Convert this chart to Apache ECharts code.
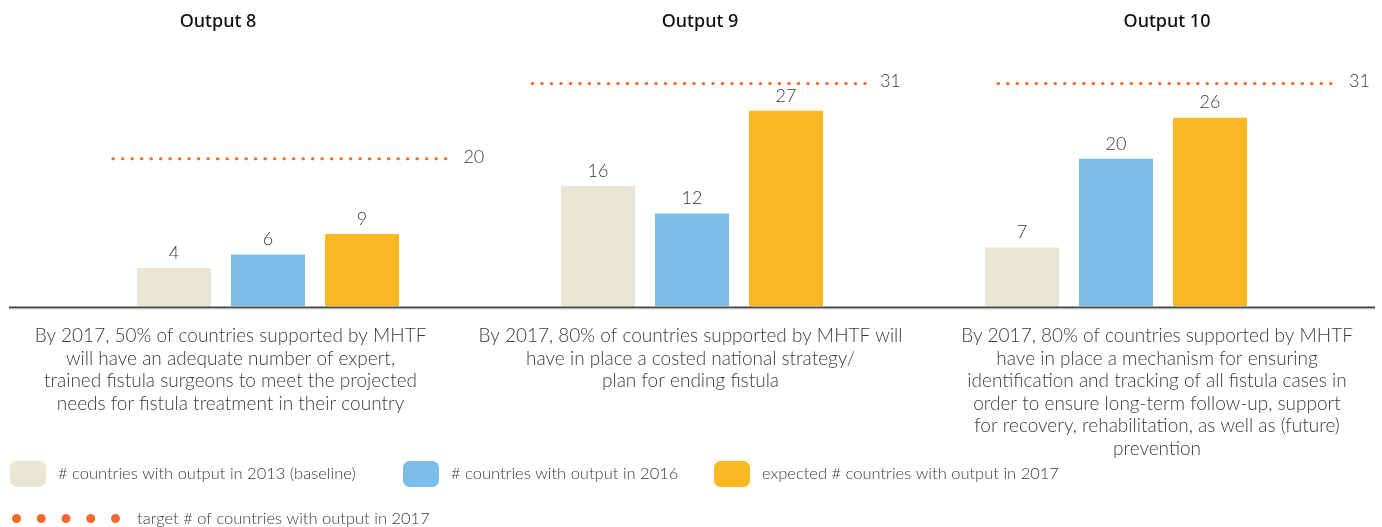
<!DOCTYPE html>
<html>
<head>
<meta charset="utf-8">
<script src="https://cdn.jsdelivr.net/npm/echarts@6/dist/echarts.min.js"></script>
<style>
  html, body { margin: 0; padding: 0; background: #fff; }
  #chart { width: 1382px; height: 527px; }
</style>
</head>
<body>
<div id="chart"></div>
<script>
// ---- data ----
const panelTitles = ['Output 8', 'Output 9', 'Output 10'];
const baseline2013 = [4, 16, 7];
const actual2016 = [6, 12, 20];
const expected2017 = [9, 27, 26];
const target2017 = [20, 31, 31];
const descriptions = [
  'By 2017, 50% of countries supported by MHTF\nwill have an adequate number of expert,\ntrained fistula surgeons to meet the projected\nneeds for fistula treatment in their country',
  'By 2017, 80% of countries supported by MHTF will\nhave in place a costed national strategy/\nplan for ending fistula',
  'By 2017, 80% of countries supported by MHTF\nhave in place a mechanism for ensuring\nidentification and tracking of all fistula cases in\norder to ensure long-term follow-up, support\nfor recovery, rehabilitation, as well as (future)\nprevention'
];
const barSeriesNames = [
  '# countries with output in 2013 (baseline)',
  '# countries with output in 2016',
  'expected # countries with output in 2017'
];
const targetName = 'target # of countries with output in 2017';

// ---- layout & style ----
const BAR_VALUES = [baseline2013, actual2016, expected2017];
const BAR_COLORS = ['#e9e6d6', '#7cbde9', '#fbb824'];
const TARGET_COLOR = '#f26a2a';
const TEXT_COLOR = '#3a3a3a';
const BODY_FONT = 'Lato';
const Y_MIN = -1.55, Y_MAX = 34;
const PANEL_STEP = 424;      // horizontal distance between panels
const ORIGIN_X = 80;         // pixel of x = 0 in the first panel
const SLOT = 94;             // pixels per bar slot
const BAR_WIDTH = 74;
const X_MAX = 4.5;
const targetSpans = [[0.35, 3.93], [0.30, 3.85], [0.745, 4.33]];
const titleCenters = [218, 700, 1167];
const descCenters = [230.5, 690.5, 1157];

const chart = echarts.init(document.getElementById('chart'), null, { renderer: 'canvas' });

function renderBar(params, api) {
  const x = api.value(0);
  const v = api.value(1);
  const top = api.coord([x, v]);
  const bottom = api.coord([x, Y_MIN]);
  return {
    type: 'group',
    children: [
      {
        type: 'rect',
        shape: { x: top[0] - BAR_WIDTH / 2, y: top[1], width: BAR_WIDTH, height: bottom[1] - top[1] },
        style: { fill: api.visual('color') }
      },
      {
        type: 'text',
        x: top[0],
        y: top[1] - 6,
        style: {
          text: String(v),
          align: 'center',
          verticalAlign: 'bottom',
          fontFamily: BODY_FONT,
          fontWeight: 300,
          fontSize: 18,
          fill: TEXT_COLOR
        }
      }
    ]
  };
}

const grids = [], xAxes = [], yAxes = [], series = [], titles = [];

panelTitles.forEach((title, p) => {
  grids.push({ left: ORIGIN_X + PANEL_STEP * p, top: 63, width: X_MAX * SLOT, height: 243 });
  xAxes.push({ type: 'value', gridIndex: p, min: 0, max: X_MAX, show: false });
  yAxes.push({ type: 'value', gridIndex: p, min: Y_MIN, max: Y_MAX, show: false });

  BAR_VALUES.forEach((vals, i) => {
    series.push({
      type: 'custom',
      name: barSeriesNames[i],
      xAxisIndex: p,
      yAxisIndex: p,
      itemStyle: { color: BAR_COLORS[i] },
      renderItem: renderBar,
      data: [[i + 1, vals[p]]],
      silent: true
    });
  });

  series.push({
    type: 'line',
    name: targetName,
    xAxisIndex: p,
    yAxisIndex: p,
    data: [[targetSpans[p][0], target2017[p]], [targetSpans[p][1], target2017[p]]],
    symbol: 'none',
    clip: false,
    silent: true,
    itemStyle: { color: TARGET_COLOR },
    lineStyle: { color: TARGET_COLOR, width: 3, type: [0.5, 9], cap: 'round' },
    endLabel: {
      show: true,
      distance: 14,
      offset: [0, -2],
      formatter: (d) => String(d.value[1]),
      color: TEXT_COLOR,
      fontFamily: BODY_FONT,
      fontWeight: 300,
      fontSize: 18
    }
  });

  titles.push({
    text: title,
    left: titleCenters[p],
    top: 10,
    padding: 0,
    textAlign: 'center',
    textStyle: { fontFamily: 'Noto Sans', fontWeight: 500, fontSize: 18, color: '#111', lineHeight: 24 }
  });
  titles.push({
    text: descriptions[p],
    left: descCenters[p],
    top: 325,
    padding: 0,
    textAlign: 'center',
    textStyle: { fontFamily: BODY_FONT, fontWeight: 300, fontSize: 19, color: TEXT_COLOR, lineHeight: 22.5 }
  });
});

const legendText = { fontFamily: BODY_FONT, fontWeight: 300, fontSize: 16.5, color: TEXT_COLOR, padding: [0, 0, 0, 7] };
const legendLefts = [10, 403, 714];
const legends = barSeriesNames.map((name, i) => ({
  data: [name],
  left: legendLefts[i],
  top: 461,
  padding: 0,
  icon: 'roundRect',
  itemWidth: 36,
  itemHeight: 26,
  selectedMode: false,
  textStyle: legendText
}));

// five-dot marker for the target legend entry
let dots = '';
for (let k = 0; k < 5; k++) {
  const cx = 4.5 + k * 24.75;
  dots += `M${cx - 4.5},4.5a4.5,4.5 0 1,0 9,0a4.5,4.5 0 1,0 -9,0Z`;
}
legends.push({
  data: [{ name: targetName, itemStyle: { color: TARGET_COLOR } }],
  left: 12,
  top: 510,
  padding: 0,
  icon: 'path://' + dots,
  itemWidth: 108,
  itemHeight: 9,
  selectedMode: false,
  textStyle: Object.assign({}, legendText, { padding: [0, 0, 0, 12] })
});

chart.setOption({
  animation: false,
  title: titles,
  grid: grids,
  xAxis: xAxes,
  yAxis: yAxes,
  legend: legends,
  series: series,
  graphic: [
    { type: 'line', silent: true, shape: { x1: 9, y1: 307.5, x2: 1375, y2: 307.5 }, style: { stroke: '#454545', lineWidth: 2 } },
    { type: 'line', silent: true, shape: { x1: 9, y1: 309, x2: 1375, y2: 309 }, style: { stroke: '#cfcfcf', lineWidth: 1 } }
  ]
});
</script>
</body>
</html>
